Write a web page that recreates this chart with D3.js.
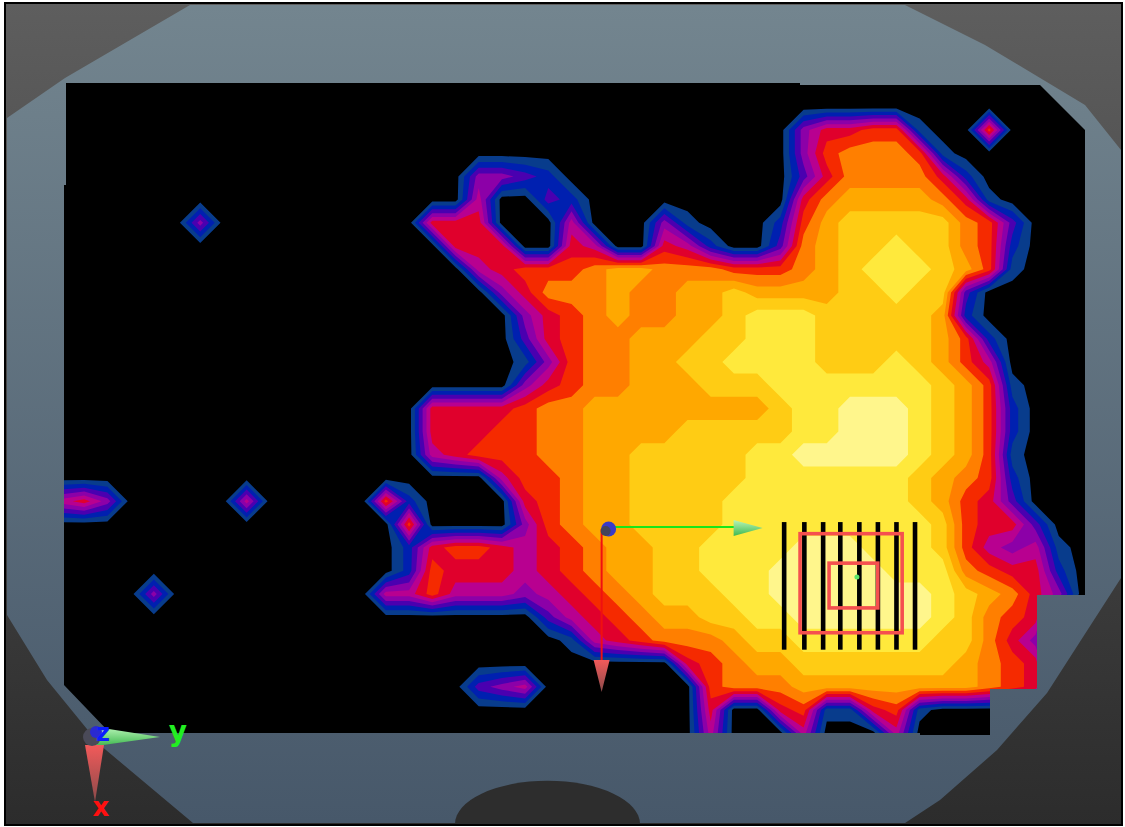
<!DOCTYPE html>
<html><head><meta charset="utf-8">
<script src="https://cdn.jsdelivr.net/npm/d3@7/dist/d3.min.js"></script>
<style>html,body{margin:0;padding:0;background:#fff}svg{display:block}</style>
</head><body><svg id="c" width="1125" height="827"></svg>
<script>
// Contour levels on the measurement grid (base 13 digits, 45 columns x 29 rows)
const gridRows = [
"00000 00000 00000 00000 00000 00000 00000 00000 00000",
"00000 00000 00000 00000 00000 00000 00000 00000 00000",
"00000 00000 00000 00000 00000 00000 00466 77100 70000",
"00000 00000 00000 00000 00000 00000 00478 88710 00000",
"00000 00000 00000 00044 32000 00000 00368 88862 00000",
"00000 00000 00000 00050 03200 00000 00689 99986 10000",
"00000 04000 00000 06660 00500 04100 0279a aaaa8 73000",
"00000 00000 00000 00666 00650 06520 0389a abaa8 72000",
"00000 00000 00000 00056 77789 98887 7789a bbba9 71000",
"00000 00000 00000 00004 68889 8899a 9999a abaa3 00000",
"00000 00000 00000 00000 46789 8899a bbbaa aaa92 00000",
"00000 00000 00000 00000 36788 999aa bbbaa aaa97 20000",
"00000 00000 00000 00000 14788 99aab bbbaa aba97 50000",
"00000 00000 00000 00000 46788 999aa abbbb bbba9 71000",
"00000 00000 00000 06666 78899 99999 9abbc ccba9 72000",
"00000 00000 00000 06667 78899 99aaa aabbc ccba9 72000",
"00000 00000 00000 05677 78899 aaaaa bbccc ccba9 71000",
"00000 00000 00000 00005 77899 aaaaa bbbbb bba98 72000",
"56400 00050 00007 20000 67899 aaaab bbbbb bba97 63000",
"00000 00000 00000 70000 47899 aaaab bbbbb bbba7 66300",
"00000 00000 00000 26776 56789 9aabb bbccc bbba7 54510",
"00000 00000 00000 27666 56789 9aabb bcccc cbbb8 76620",
"00004 00000 00005 57555 45678 9aaab bcccc cccba 98640",
"00000 00000 00000 00000 03567 899aa bbccc cccba 87600",
"00000 00000 00000 00000 00156 78889 aabbb bbbaa 86400",
"00000 00000 00000 00000 00000 00678 99aaa aaaa9 87600",
"00000 00000 00000 00034 50000 00078 88999 99999 87600",
"00000 00000 00000 00000 00000 00060 06711 67100 00000",
"00000 00000 00000 00000 00000 00050 00500 05000 00000"
];
const levels = [1,2,3,4,5,6,7,8,9,10,11,12];
const levelColors = ["#083c8c","#0020b0","#4a00b0","#8c00a8","#b80090","#e0002c","#f52a00","#ff7f00","#ffa800","#ffcc14","#ffe93c","#fff68c"];
const beamColumns = [31.16,32.03,32.84,33.58,34.4,35.2,36,36.8];
const beamSpan = [18.9,24.4];
const squareOuter = {c:[31.85,36.25], r:[19.4,23.67]};
const squareInner = {c:[33.1,35.2], r:[20.67,22.6]};
const isoCentre = [34.3,21.27];
const originPoint = [23.6,19.2];
const axisEnds = {y:[30.1,19.1], x:[23.5,24.9]};

const W=1125,H=827;
const svg=d3.select("#c");
const nCols=45,nRows=29;
const xS=d3.scaleLinear().domain([0,nCols-1]).range([61,1082]);
const yS=d3.scaleLinear().domain([0,nRows-1]).range([83.6,733.2]);
const values=gridRows.flatMap(r=>r.replace(/ /g,"").split("").map(ch=>parseInt(ch,13)));

const defs=svg.append("defs");
function vgrad(id,a,b){const g=defs.append("linearGradient").attr("id",id).attr("x1",0).attr("x2",0).attr("y1",0).attr("y2",1);
  g.append("stop").attr("offset",0).attr("stop-color",a);g.append("stop").attr("offset",1).attr("stop-color",b);}
vgrad("bg","#5e5e5e","#2c2c2c");
vgrad("frame","#73858f","#47586a");
vgrad("rc","#f25a5a","#8a4a4a");
vgrad("gc","#b8f5b8","#3fb84f");

const frameBox=[5,3,1117,822];
svg.append("rect").attr("x",frameBox[0]).attr("y",frameBox[1]).attr("width",frameBox[2]).attr("height",frameBox[3]).attr("fill","url(#bg)");

const framePath="M190,5 L905,5 L985,45 L1085,105 L1121,150 L1121,578 L1083,637 L1047,693 L997,750 L940,800 L905,823 L193,823 L100,745 L47,680 L7,615 L7,118 L65,78 Z";
svg.append("path").attr("d",framePath).attr("fill","url(#frame)");
svg.append("path").attr("d","M455,824 A92,43 0 0 1 640,824 Z").attr("fill","#2d2d2d");

const wellPath="M66,83 L800,83 L800,85 L1040,85 L1085,130 L1085,595 L1037,595 L1037,689 L990,689 L990,735 L920,735 L920,733 L110,733 L64,685 L64,185 L66,185 Z";
defs.append("clipPath").attr("id","well").append("path").attr("d",wellPath);
svg.append("path").attr("d",wellPath).attr("fill","#000");

const contours=d3.contours().size([nCols,nRows]).thresholds(levels.map(l=>l-0.5))(values);
const proj=d3.geoTransform({point(x,y){this.stream.point(xS(x-0.5),yS(y-0.5));}});
const geo=d3.geoPath(proj);
svg.append("g").attr("clip-path","url(#well)").selectAll("path").data(contours).join("path")
  .attr("d",geo).attr("fill",(d,i)=>levelColors[i]);

svg.append("g").selectAll("rect").data(beamColumns).join("rect")
  .attr("x",d=>xS(d)-2.2).attr("width",4.6)
  .attr("y",yS(beamSpan[0])).attr("height",yS(beamSpan[1])-yS(beamSpan[0])).attr("fill","#000");
svg.append("g").selectAll("rect").data([squareOuter,squareInner]).join("rect")
  .attr("x",d=>xS(d.c[0])).attr("width",d=>xS(d.c[1])-xS(d.c[0]))
  .attr("y",d=>yS(d.r[0])).attr("height",d=>yS(d.r[1])-yS(d.r[0]))
  .attr("fill","none").attr("stroke","#f5504f").attr("stroke-width",3.6);
svg.append("circle").attr("cx",xS(isoCentre[0])).attr("cy",yS(isoCentre[1])).attr("r",2.5).attr("fill","#5be36a");

const ox=xS(originPoint[0]),oy=yS(originPoint[1]);
svg.append("line").attr("x1",ox).attr("y1",oy-2).attr("x2",xS(axisEnds.y[0])-24).attr("y2",oy-2).attr("stroke","#19e619").attr("stroke-width",2);
svg.append("path").attr("d",`M${ox+125},${oy-9} L${ox+154},${oy-1} L${ox+125},${oy+7} Z`).attr("fill","url(#gc)");
svg.append("line").attr("x1",ox-7).attr("y1",oy).attr("x2",ox-7).attr("y2",oy+132).attr("stroke","#f01010").attr("stroke-width",2);
svg.append("path").attr("d",`M${ox-15},${oy+131} L${ox+1},${oy+131} L${ox-7},${oy+163} Z`).attr("fill","url(#rc)");
svg.append("circle").attr("cx",ox).attr("cy",oy).attr("r",7.5).attr("fill","#3a3ac8");
svg.append("circle").attr("cx",ox-3).attr("cy",oy+2).attr("r",5).attr("fill","#44445a");

svg.append("path").attr("d","M96,727 L160,737 L96,746 Z").attr("fill","url(#gc)");
svg.append("path").attr("d","M85,745 L104,745 L95,802 Z").attr("fill","url(#rc)");
svg.append("circle").attr("cx",92).attr("cy",737).attr("r",9).attr("fill","#4a4a58");
svg.append("circle").attr("cx",96).attr("cy",732).attr("r",6).attr("fill","#2a2ad0");
const lab=[["z",103,741,"#0a1cff",24],["y",178,741,"#22ee22",28],["x",101,816,"#ff1010",26]];
svg.append("g").selectAll("text").data(lab).join("text")
  .attr("x",d=>d[1]).attr("y",d=>d[2]).attr("fill",d=>d[3]).attr("font-size",d=>d[4])
  .attr("text-anchor","middle").attr("font-weight","bold").attr("font-family","DejaVu Sans, sans-serif").text(d=>d[0]);

svg.append("rect").attr("x",frameBox[0]).attr("y",frameBox[1]).attr("width",frameBox[2]).attr("height",frameBox[3])
  .attr("fill","none").attr("stroke","#000").attr("stroke-width",2);
</script></body></html>
